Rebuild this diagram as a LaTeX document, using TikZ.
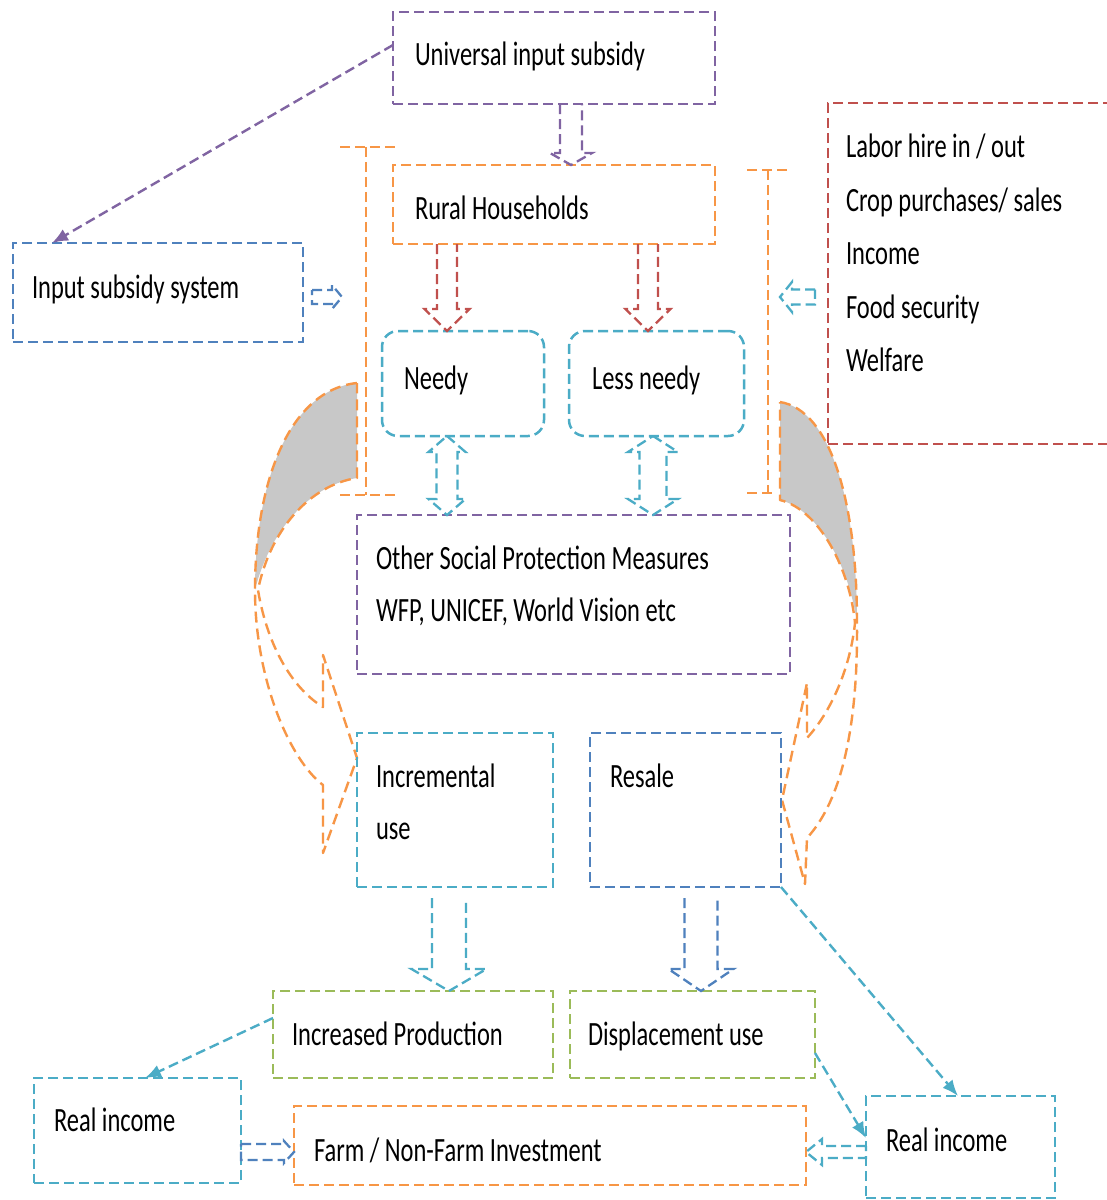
\documentclass[tikz,border=0pt]{standalone}
\usepackage{fontspec}
\setmainfont{Carlito}[FakeStretch=0.72]
\usetikzlibrary{arrows.meta,calc}
\definecolor{cpurple}{HTML}{8064A2}
\definecolor{corange}{HTML}{F79646}
\definecolor{cred}{HTML}{C0504D}
\definecolor{cblue}{HTML}{4F81BD}
\definecolor{ccyan}{HTML}{4BACC6}
\definecolor{cgreen}{HTML}{9BBB59}
\definecolor{cgray}{HTML}{C8C8C8}
\tikzset{
  dsh/.style={line width=2.5pt, dash pattern=on 10pt off 5pt},
  box/.style={draw=#1, dsh, inner sep=0pt, outer sep=0pt},
  txt/.style={anchor=base west, inner sep=0pt, outer sep=0pt, font=\fontsize{34}{40}\selectfont, text=black},
  blk/.style={draw=#1, line width=2.3pt, dash pattern=on 10pt off 5pt, line join=miter},
  conn/.style={draw=#1, line width=2.4pt, dash pattern=on 10pt off 5pt, -{Latex[length=16pt,width=13pt]}},
  curv/.style={draw=corange, line width=2.4pt, dash pattern=on 11pt off 6pt, line join=round},
}
\newcommand\blockv[6]{%
  \draw[#1] let \p1=(#2), \p2=(#3), \n1={sign(\y2-\y1)} in
  ({\x2-#4pt},\y1) -- ({\x2-#4pt},{\y2-(\n1)*#6pt}) -- ({\x2-#5pt},{\y2-(\n1)*#6pt}) -- (\x2,\y2)
  -- ({\x2+#5pt},{\y2-(\n1)*#6pt}) -- ({\x2+#4pt},{\y2-(\n1)*#6pt}) -- ({\x2+#4pt},\y1);}
\newcommand\blockvv[6]{%
  \draw[#1] let \p1=(#2), \p2=(#3), \n1={sign(\y2-\y1)} in
  (\x1,\y1) -- ({\x1+#5pt},{\y1+(\n1)*#6pt}) -- ({\x1+#4pt},{\y1+(\n1)*#6pt})
  -- ({\x1+#4pt},{\y2-(\n1)*#6pt}) -- ({\x1+#5pt},{\y2-(\n1)*#6pt}) -- (\x1,\y2)
  -- ({\x1-#5pt},{\y2-(\n1)*#6pt}) -- ({\x1-#4pt},{\y2-(\n1)*#6pt})
  -- ({\x1-#4pt},{\y1+(\n1)*#6pt}) -- ({\x1-#5pt},{\y1+(\n1)*#6pt}) -- cycle;}
\newcommand\blockh[6]{%
  \draw[#1] let \p1=(#2), \p2=(#3), \n1={sign(\x2-\x1)} in
  (\x1,{\y2+#4pt}) -- ({\x2-(\n1)*#6pt},{\y2+#4pt}) -- ({\x2-(\n1)*#6pt},{\y2+#5pt}) -- (\x2,\y2)
  -- ({\x2-(\n1)*#6pt},{\y2-#5pt}) -- ({\x2-(\n1)*#6pt},{\y2-#4pt}) -- (\x1,{\y2-#4pt}) -- cycle;}
\begin{document}
\begin{tikzpicture}[x=1pt,y=-1pt]
\useasboundingbox (0,0) rectangle (1107,1200);
\clip (0,0) rectangle (1107,1200);
\fill[white] (0,0) rectangle (1107,1200);

% curved arrows (left and right)
\fill[cgray] (357,383) .. controls (290,390) and (255,480) .. (255,590)
  .. controls (270,530) and (310,485) .. (357,478) -- cycle;
\draw[curv] (357,383) .. controls (290,390) and (255,480) .. (255,590)
  .. controls (255,680) and (290,760) .. (323,785) -- (323,853) -- (357,758) -- (323,655) -- (323,707)
  .. controls (295,690) and (268,650) .. (258,590)
  .. controls (270,530) and (310,485) .. (357,478) -- cycle;
\fill[cgray] (780,402) .. controls (830,410) and (857,500) .. (857,623)
  .. controls (850,570) and (820,510) .. (780,500) -- cycle;
\draw[curv] (780,402) .. controls (830,410) and (857,500) .. (857,623)
  .. controls (858,725) and (842,800) .. (807,838) -- (805,884) -- (782,800) -- (807,683) -- (807,738)
  .. controls (830,713) and (850,670) .. (855,623)
  .. controls (850,570) and (820,510) .. (780,500) -- cycle;

% brackets
\draw[dsh, draw=corange] (340,147) -- (395,147) (366,147) -- (366,495) (340,495) -- (395,495);
\draw[dsh, draw=corange] (747,170) -- (790,170) (768,170) -- (768,493) (747,493) -- (773,493);

% boxes
\node[box=cpurple, minimum width=322pt, minimum height=92pt] (uni) at (554,58) {};
\node[box=corange, minimum width=322pt, minimum height=79pt] (rural) at (554,204.5) {};
\node[box=cblue, minimum width=290pt, minimum height=99pt] (inp) at (158,292.5) {};
\node[box=cred, minimum width=287pt, minimum height=341pt] (red) at (971.5,273.5) {};
\node[box=ccyan, rounded corners=16pt, minimum width=162pt, minimum height=105pt] (needy) at (463,383.5) {};
\node[box=ccyan, rounded corners=16pt, minimum width=175pt, minimum height=105pt] (less) at (656.5,383.5) {};
\node[box=cpurple, minimum width=433pt, minimum height=159pt] (other) at (573.5,594.5) {};
\node[box=ccyan, minimum width=196pt, minimum height=154pt] (incr) at (455,810) {};
\node[box=cblue, minimum width=191pt, minimum height=154pt] (resale) at (685.5,810) {};
\node[box=cgreen, minimum width=280pt, minimum height=87pt] (incp) at (413,1034.5) {};
\node[box=cgreen, minimum width=245pt, minimum height=87pt] (disp) at (692.5,1034.5) {};
\node[box=ccyan, minimum width=207pt, minimum height=105pt] (rl) at (137.5,1130.5) {};
\node[box=corange, minimum width=512pt, minimum height=79pt] (far) at (550,1145.5) {};
\node[box=ccyan, minimum width=189pt, minimum height=102pt] (rr) at (960.5,1147) {};

% texts
\node[txt] (t1) at (415,65) {Universal input subsidy};
\node[txt] (t2) at (415,219) {Rural Households};
\node[txt] (t3) at (32,298) {Input subsidy system};
\node[txt] (t4) at (846,157) {Labor hire in / out};
\node[txt] (t5) at (846,211) {Crop purchases/ sales};
\node[txt] (t6) at (846,264) {Income};
\node[txt] (t7) at (846,318) {Food security};
\node[txt] (t8) at (846,371) {Welfare};
\node[txt] (t9) at (404,389) {Needy};
\node[txt] (t10) at (592,389) {Less needy};
\node[txt] (t11) at (376,569) {Other Social Protection Measures};
\node[txt] (t12) at (376,621) {WFP, UNICEF, World Vision etc};
\node[txt] (t13) at (376,787) {Incremental};
\node[txt] (t14) at (376,839) {use};
\node[txt] (t15) at (610,787) {Resale};
\node[txt] (t16) at (292,1045) {Increased Production};
\node[txt] (t17) at (588,1045) {Displacement use};
\node[txt] (t18) at (54,1131) {Real income};
\node[txt] (t19) at (314,1161) {Farm / Non-Farm Investment};
\node[txt] (t20) at (886,1151) {Real income};

% block arrows
\blockv{blk=cpurple}{uni.south}{[xshift=17pt]rural.north}{11}{21}{12}
\blockv{blk=cred}{rural.south}{[xshift=-16pt]needy.north}{10}{22.5}{22}
\blockv{blk=cred}{rural.south}{[xshift=-8.5pt]less.north}{10}{22.5}{22}
\blockvv{blk=ccyan}{[xshift=-16pt]needy.south}{other.north}{10.5}{18.5}{16}
\blockvv{blk=ccyan}{[xshift=-3.5pt]less.south}{other.north}{13.5}{25}{16}
\blockv{blk=ccyan}{[yshift=-11pt]incr.south}{[xshift=36pt]incp.north}{17}{37.5}{22}
\blockv{blk=cblue}{[yshift=-11pt]resale.south}{[xshift=8.5pt]disp.north}{16.5}{32.5}{22}
\blockh{blk=cblue}{[xshift=9pt,yshift=-4.5pt]inp.east}{[xshift=39pt,yshift=-4.5pt]inp.east}{7}{12}{10}
\blockh{blk=ccyan}{[xshift=-13pt,yshift=-23.5pt]red.west}{[xshift=-48pt,yshift=-23.5pt]red.west}{7.5}{15}{12}
\blockh{blk=cblue}{[yshift=-21.5pt]rl.east}{[yshift=-6.5pt]far.west}{8}{11}{10}
\blockh{blk=ccyan}{[yshift=-5pt]rr.west}{[yshift=-6.5pt]far.east}{6}{13}{16}

% connectors
\draw[conn=cpurple] ([yshift=13pt]uni.west) -- ([xshift=39pt]inp.north west);
\draw[conn=ccyan] ([yshift=16.5pt]incp.west) -- ([xshift=7.5pt]rl.north);
\draw[conn=ccyan] (resale.south east) -- ([xshift=-2.5pt]rr.north);
\draw[conn=ccyan] ([yshift=-18.5pt]disp.east) -- ([yshift=9pt]rr.west);
\end{tikzpicture}
\end{document}
